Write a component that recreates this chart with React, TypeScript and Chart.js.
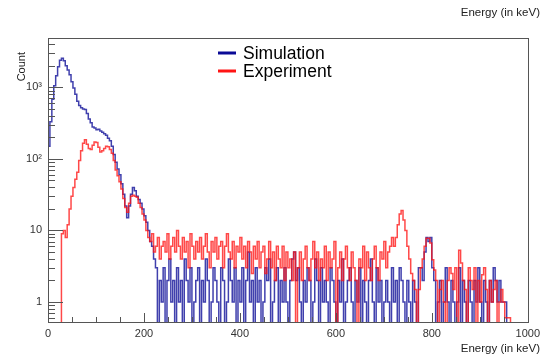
import React, { useEffect, useRef } from "react";
import { Chart, registerables } from "chart.js";

Chart.register(...registerables);

// ---- data ----
const BIN_WIDTH = 4; // keV per histogram bin
const X_TICKS = [0, 200, 400, 600, 800, 1000];
const Y_TICKS = [1, 10, 100, 1000];
const Y_TICK_LABELS = ["1", "10", "10\u00B2", "10\u00B3"];
const SERIES_NAMES = ["Simulation", "Experiment"];
const X_TITLE = "Energy (in keV)";
const Y_TITLE = "Count";

// counts per 4 keV bin, bin i covers [4i, 4i+4)
const simulation = [
  150, 330, 680, 1050, 1450, 1950, 2400, 2550, 2350, 2000, // 0-40
  1750, 1500, 1200, 980, 800, 640, 560, 520, 500, 490, // 40-80
  430, 360, 320, 280, 270, 255, 260, 245, 235, 225, // 80-120
  215, 195, 180, 150, 115, 90, 72, 60, 45, 32, // 120-160
  22, 15, 22, 32, 40, 36, 30, 27, 24, 20, // 160-200
  16, 13, 10, 7, 6, 4, 3, 0, 2, 1, // 200-240
  3, 0, 2, 4, 1, 2, 0, 3, 1, 2, // 240-280
  0, 4, 2, 1, 3, 0, 1, 2, 3, 0, // 280-320
  2, 1, 4, 2, 0, 1, 3, 2, 1, 0, // 320-360
  3, 2, 0, 1, 4, 2, 1, 3, 0, 2, // 360-400
  1, 3, 0, 2, 5, 1, 2, 0, 3, 1, // 400-440
  2, 0, 1, 3, 2, 4, 0, 1, 2, 3, // 440-480
  0, 2, 1, 3, 1, 0, 2, 4, 5, 2, // 480-520
  3, 1, 0, 2, 1, 3, 2, 0, 1, 4, // 520-560
  2, 0, 3, 1, 2, 1, 0, 3, 2, 1, // 560-600
  0, 2, 1, 4, 0, 1, 2, 3, 1, 0, // 600-640
  2, 1, 3, 0, 2, 1, 0, 2, 4, 1, // 640-680
  0, 3, 1, 2, 0, 1, 2, 1, 0, 3, // 680-720
  1, 2, 0, 3, 2, 1, 0, 2, 1, 0, // 720-760
  2, 1, 0, 3, 3, 2, 5, 8, 7, 8, // 760-800
  3, 2, 0, 1, 2, 0, 1, 3, 1, 0, // 800-840
  2, 1, 0, 1, 3, 0, 2, 1, 0, 2, // 840-880
  1, 0, 2, 1, 3, 1, 0, 2, 1, 0, // 880-920
  2, 1, 3, 2, 1, 2, 1, 1, 1, 0, // 920-960
  0, 0, 0, 0, 0, 0, 0, 0, 0, 0, // 960-1000
];

const experiment = [
  0, 0, 0, 0, 0, 0, 0, 9, 10, 8, // 0-40
  12, 20, 30, 40, 52, 65, 95, 130, 165, 185, // 40-80
  160, 140, 135, 155, 172, 170, 145, 125, 130, 140, // 80-120
  150, 148, 135, 120, 95, 70, 58, 48, 38, 28, // 120-160
  21, 18, 24, 30, 31, 30, 29, 24, 21, 17, // 160-200
  14, 10, 8, 7, 9, 5, 6, 8, 4, 6, // 200-240
  7, 5, 9, 4, 6, 8, 5, 10, 6, 4, // 240-280
  8, 5, 7, 3, 9, 6, 4, 7, 5, 8, // 280-320
  4, 6, 9, 5, 3, 7, 5, 8, 4, 6, // 320-360
  7, 3, 6, 9, 5, 4, 7, 3, 6, 5, // 360-400
  8, 4, 6, 3, 7, 5, 2.5, 6, 4, 7, // 400-440
  3, 5, 6, 2.5, 4, 7, 3, 5, 2, 6, // 440-480
  4, 3, 6, 2, 5, 3, 4, 2, 5, 0, // 480-520
  3, 5, 2, 4, 6, 3, 2, 4, 7, 3, // 520-560
  5, 2, 4, 3, 6, 2, 5, 3, 4, 7, // 560-600
  0, 3, 5, 2, 4, 6, 3, 2, 5, 3, // 600-640
  2, 0, 4, 3, 6, 2, 5, 3, 2, 4, // 640-680
  6, 3, 2, 5, 4, 7, 3, 5, 6, 8, // 680-720
  6, 8, 12, 17, 19, 14, 10, 6, 4, 2.5, // 720-760
  2, 1.5, 0, 1.5, 3, 4, 6, 7.8, 7.8, 6.7, // 760-800
  3.9, 2.8, 2, 0, 1.5, 2, 1, 0, 2, 3, // 800-840
  2.5, 1.5, 3, 0, 5.3, 3.5, 2, 1.5, 0, 3, // 840-880
  2, 1.5, 3, 0, 2, 1, 2.4, 3, 1.5, 0, // 880-920
  2, 1, 1.5, 2, 0, 1, 1.5, 1, 0.6, 0.6, // 920-960
  0.6, 0, 0, 0, 0, 0, 0, 0, 0, 0, // 960-1000
];

// ---- style ----
const FONT = '"Liberation Sans", Arial, Helvetica, sans-serif';
const BLUE = "rgba(10, 10, 150, 0.78)";
const RED = "rgba(255, 20, 20, 0.78)";
const BLUE_SOLID = "rgb(10, 10, 150)";
const RED_SOLID = "rgb(255, 20, 20)";
const Y_MIN = 0.525;
const Y_MAX = 4900;
const ZERO_LEVEL = 0.3; // empty bins drop below the axis (clipped), like ROOT on log scale
const MINOR_X_STEP = 50;

function toSteps(values: number[]) {
  const pts = values.map((v, i) => ({ x: i * BIN_WIDTH, y: v > 0 ? v : ZERO_LEVEL }));
  const last = values[values.length - 1];
  pts.push({ x: values.length * BIN_WIDTH, y: last > 0 ? last : ZERO_LEVEL });
  return pts;
}

const framePlugin = {
  id: "rootFrame",
  afterDatasetsDraw(chart: any) {
    const { ctx, chartArea: a, scales } = chart;
    const xs = scales.x;
    const ys = scales.y;
    ctx.save();
    ctx.strokeStyle = "#555";
    ctx.lineWidth = 1;
    ctx.strokeRect(Math.round(a.left) + 0.5, Math.round(a.top) + 0.5, Math.round(a.right - a.left), Math.round(a.bottom - a.top));
    ctx.beginPath();
    for (let e = xs.min; e <= xs.max; e += MINOR_X_STEP) {
      const px = Math.round(xs.getPixelForValue(e)) + 0.5;
      const len = X_TICKS.includes(e) ? 9 : 5;
      ctx.moveTo(px, a.bottom);
      ctx.lineTo(px, a.bottom - len);
    }
    for (let d = -1; d <= 3; d++) {
      for (let m = 1; m <= 9; m++) {
        const v = m * Math.pow(10, d);
        if (v < ys.min || v > ys.max) continue;
        const py = Math.round(ys.getPixelForValue(v)) + 0.5;
        const len = m === 1 ? 15 : 7;
        ctx.moveTo(a.left, py);
        ctx.lineTo(a.left + len, py);
      }
    }
    ctx.stroke();

    // axis titles
    ctx.fillStyle = "#222";
    ctx.font = `11.5px ${FONT}`;
    ctx.textAlign = "right";
    ctx.textBaseline = "middle";
    ctx.fillText(X_TITLE, 540, 13);
    ctx.fillText(X_TITLE, 540, 349);
    ctx.save();
    ctx.translate(22, 52);
    ctx.rotate(-Math.PI / 2);
    ctx.font = `11px ${FONT}`;
    ctx.textAlign = "right";
    ctx.fillText(Y_TITLE, 0, 0);
    ctx.restore();

    // legend
    const colors = [BLUE_SOLID, RED_SOLID];
    const rows = [53, 71];
    ctx.lineWidth = 3;
    SERIES_NAMES.forEach((name, i) => {
      ctx.strokeStyle = colors[i];
      ctx.beginPath();
      ctx.moveTo(218, rows[i]);
      ctx.lineTo(236, rows[i]);
      ctx.stroke();
      ctx.fillStyle = "#000";
      ctx.font = `17.5px ${FONT}`;
      ctx.textAlign = "left";
      ctx.textBaseline = "middle";
      ctx.fillText(name, 243, rows[i] + 1);
    });
    ctx.restore();
  },
};

export default function App() {
  const ref = useRef<HTMLCanvasElement>(null);
  useEffect(() => {
    document.body.style.margin = "0";
    const chart = new Chart(ref.current as HTMLCanvasElement, {
      type: "line",
      data: {
        datasets: [
          {
            label: SERIES_NAMES[1],
            data: toSteps(experiment),
            borderColor: RED,
            borderWidth: 1.5,
            stepped: true,
            pointRadius: 0,
            fill: false,
            order: 0,
          },
          {
            label: SERIES_NAMES[0],
            data: toSteps(simulation),
            borderColor: BLUE,
            borderWidth: 1.5,
            stepped: true,
            pointRadius: 0,
            fill: false,
            order: 1,
          },
        ],
      },
      options: {
        responsive: false,
        animation: false,
        devicePixelRatio: 1,
        layout: { padding: { top: 38, right: 15, left: 0, bottom: 0 } },
        plugins: { legend: { display: false }, tooltip: { enabled: false } },
        scales: {
          x: {
            type: "linear",
            min: 0,
            max: 1000,
            grid: { display: false, drawTicks: false },
            border: { display: false },
            afterBuildTicks: (s: any) => {
              s.ticks = X_TICKS.map((v) => ({ value: v }));
            },
            afterFit: (s: any) => {
              s.height = 35;
            },
            ticks: {
              autoSkip: false,
              maxRotation: 0,
              padding: 5,
              color: "#333",
              font: { family: FONT, size: 11 },
              callback: (v: any) => String(v),
            },
          },
          y: {
            type: "logarithmic",
            min: Y_MIN,
            max: Y_MAX,
            grid: { display: false, drawTicks: false },
            border: { display: false },
            afterBuildTicks: (s: any) => {
              s.ticks = Y_TICKS.map((v) => ({ value: v }));
            },
            afterFit: (s: any) => {
              s.width = 48;
            },
            ticks: {
              autoSkip: false,
              padding: 6,
              color: "#333",
              font: { family: FONT, size: 11 },
              callback: (_v: any, i: number) => Y_TICK_LABELS[i],
            },
          },
        },
      },
      plugins: [framePlugin],
    } as any);
    return () => chart.destroy();
  }, []);
  return (
    <div style={{ position: "fixed", left: 0, top: 0, width: 545, height: 357, background: "#fff" }}>
      <canvas ref={ref} width={545} height={357} style={{ display: "block", width: 545, height: 357 }} />
    </div>
  );
}
